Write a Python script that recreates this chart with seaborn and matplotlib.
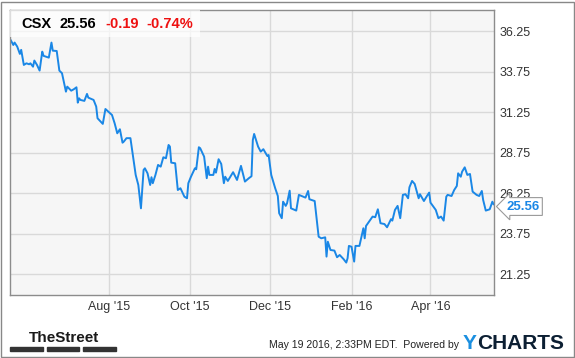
import pandas as pd
import seaborn as sns
import matplotlib.pyplot as plt
from matplotlib.patches import Rectangle

# CSX daily close
dates = [
    '2015-05-18', '2015-05-20', '2015-05-21', '2015-05-23', '2015-05-25', '2015-05-26', '2015-05-28', '2015-05-30',
    '2015-06-01', '2015-06-02', '2015-06-04', '2015-06-05', '2015-06-07', '2015-06-09', '2015-06-11', '2015-06-12',
    '2015-06-16', '2015-06-18', '2015-06-19', '2015-06-22', '2015-06-24', '2015-06-26', '2015-06-29', '2015-06-30',
    '2015-07-03', '2015-07-05', '2015-07-07', '2015-07-08', '2015-07-09', '2015-07-10', '2015-07-13', '2015-07-15',
    '2015-07-16', '2015-07-20', '2015-07-22', '2015-07-23', '2015-07-27', '2015-07-29', '2015-08-01', '2015-08-03',
    '2015-08-05', '2015-08-07', '2015-08-09', '2015-08-11', '2015-08-12', '2015-08-14', '2015-08-17', '2015-08-21',
    '2015-08-23', '2015-08-25', '2015-08-27', '2015-08-28', '2015-08-30', '2015-09-01', '2015-09-02', '2015-09-03',
    '2015-09-05', '2015-09-07', '2015-09-09', '2015-09-11', '2015-09-13', '2015-09-15', '2015-09-16', '2015-09-17',
    '2015-09-20', '2015-09-22', '2015-09-24', '2015-09-27', '2015-09-29', '2015-09-30', '2015-10-02', '2015-10-05',
    '2015-10-06', '2015-10-08', '2015-10-09', '2015-10-12', '2015-10-14', '2015-10-15', '2015-10-16', '2015-10-19',
    '2015-10-20', '2015-10-21', '2015-10-23', '2015-10-25', '2015-10-27', '2015-10-28', '2015-10-30', '2015-11-03',
    '2015-11-06', '2015-11-09', '2015-11-12', '2015-11-15', '2015-11-17', '2015-11-18', '2015-11-19', '2015-11-22',
    '2015-11-24', '2015-11-26', '2015-11-29', '2015-11-30', '2015-12-02', '2015-12-05', '2015-12-07', '2015-12-08',
    '2015-12-10', '2015-12-11', '2015-12-13', '2015-12-14', '2015-12-16', '2015-12-17', '2015-12-21', '2015-12-23',
    '2015-12-28', '2015-12-30', '2015-12-31', '2016-01-04', '2016-01-07', '2016-01-09', '2016-01-12', '2016-01-13',
    '2016-01-14', '2016-01-16', '2016-01-19', '2016-01-21', '2016-01-23', '2016-01-26', '2016-01-28', '2016-01-29',
    '2016-01-30', '2016-02-01', '2016-02-03', '2016-02-04', '2016-02-07', '2016-02-10', '2016-02-11', '2016-02-12',
    '2016-02-17', '2016-02-19', '2016-02-21', '2016-02-23', '2016-02-26', '2016-02-28', '2016-03-02', '2016-03-03',
    '2016-03-05', '2016-03-07', '2016-03-09', '2016-03-11', '2016-03-13', '2016-03-15', '2016-03-16', '2016-03-18',
    '2016-03-20', '2016-03-23', '2016-03-24', '2016-03-27', '2016-03-29', '2016-03-31', '2016-04-01', '2016-04-05',
    '2016-04-07', '2016-04-09', '2016-04-11', '2016-04-13', '2016-04-14', '2016-04-17', '2016-04-19', '2016-04-21',
    '2016-04-22', '2016-04-24', '2016-04-25', '2016-04-27', '2016-04-29', '2016-05-01', '2016-05-03', '2016-05-06',
    '2016-05-08', '2016-05-10', '2016-05-11', '2016-05-13', '2016-05-16', '2016-05-18', '2016-05-19',
]
prices = [
    35.71, 35.40, 35.55, 35.30, 34.85, 35.10, 34.17, 34.27,
    34.21, 34.27, 34.06, 34.44, 34.17, 33.82, 34.99, 34.73,
    34.62, 35.55, 35.05, 35.03, 33.82, 33.66, 32.52, 32.83,
    32.58, 32.67, 32.79, 31.84, 32.11, 32.01, 31.95, 32.38,
    32.15, 32.01, 31.60, 30.88, 30.53, 31.45, 31.23, 31.08,
    30.57, 29.95, 30.20, 29.37, 29.44, 29.65, 29.65, 27.38,
    26.76, 25.32, 27.69, 27.79, 27.48, 26.76, 27.24, 26.87,
    27.38, 28.00, 27.89, 28.47, 28.41, 29.23, 29.13, 28.14,
    28.10, 26.45, 26.56, 26.04, 25.94, 26.87, 27.27, 27.79,
    27.73, 29.09, 29.03, 28.51, 27.18, 27.89, 27.38, 27.38,
    27.75, 27.52, 28.35, 28.06, 26.87, 27.27, 27.01, 27.55,
    27.07, 27.94, 26.97, 27.18, 27.30, 29.54, 29.91, 29.13,
    28.82, 28.97, 28.55, 28.61, 27.38, 26.56, 26.08, 25.02,
    24.71, 25.73, 25.47, 25.63, 26.41, 25.32, 25.18, 26.15,
    25.98, 26.39, 25.88, 25.77, 23.57, 23.47, 23.53, 22.34,
    23.26, 22.75, 22.71, 22.30, 22.44, 22.18, 21.97, 22.24,
    23.00, 22.95, 22.03, 23.00, 23.00, 24.09, 23.47, 24.23,
    24.81, 24.77, 25.26, 24.40, 24.35, 24.15, 24.65, 24.56,
    25.22, 25.47, 24.71, 26.15, 26.19, 25.94, 26.62, 27.01,
    26.82, 25.94, 26.19, 25.77, 26.04, 26.29, 25.67, 25.22,
    24.71, 24.81, 24.56, 26.04, 26.15, 26.08, 26.45, 26.70,
    27.48, 27.27, 27.58, 27.85, 27.38, 27.44, 26.35, 26.15,
    26.08, 26.39, 25.84, 25.18, 25.26, 25.73, 25.56,
]

tick_dates = ['2015-08-01', '2015-10-01', '2015-12-01', '2016-02-01', '2016-04-01']
tick_labels = ["Aug '15", "Oct '15", "Dec '15", "Feb '16", "Apr '16"]
y_ticks = [21.25, 23.75, 26.25, 28.75, 31.25, 33.75, 36.25]

ticker, last, change, change_pct = 'CSX', '25.56', '-0.19', '-0.74%'

df = pd.DataFrame({'date': pd.to_datetime(dates), 'price': prices})

sns.set_style('white')
plt.rcParams['font.family'] = ['Liberation Sans', 'DejaVu Sans']

W, H = 575, 358
fig = plt.figure(figsize=(W / 100, H / 100), dpi=100)


def px(x, y):
    # pixel position (from top-left) -> figure fraction
    return x / W, 1 - y / H


ax = fig.add_axes([10 / W, 1 - 295 / H, 484 / W, 285 / H])
ax.set_facecolor('#f6f6f6')

blue = '#1a87e6'
sns.lineplot(data=df, x='date', y='price', ax=ax, color=blue, linewidth=1.4)

ax.set_xlim(pd.Timestamp('2015-05-17 12:00'), pd.Timestamp('2016-05-19 06:00'))
ax.set_ylim(19.97, 37.56)
ax.set_xticks(pd.to_datetime(tick_dates))
ax.set_xticklabels(tick_labels)
ax.set_yticks(y_ticks)
ax.set_yticklabels([f'{v:.2f}' for v in y_ticks])
ax.yaxis.tick_right()
ax.tick_params(axis='both', length=0, labelsize=9, labelcolor='#333333')
ax.tick_params(axis='y', pad=4)
ax.tick_params(axis='x', pad=4)
ax.set_xlabel('')
ax.set_ylabel('')
ax.grid(True, color='#d9d9d9', linewidth=1)
for s in ax.spines.values():
    s.set_color('#8c8c8c')
    s.set_linewidth(1)

# header box with quote
ax.add_patch(Rectangle((0, 1 - 26.7 / 285), 190 / 484, 26.7 / 285, transform=ax.transAxes,
                       facecolor='white', alpha=0.7, edgecolor='none', zorder=3))
for xx, txt, col in [(21, ticker, 'black'), (60, last, 'black'), (105, change, '#ee1111'), (146, change_pct, '#ee1111')]:
    fig.text(*px(xx, 28.5), txt, color=col, fontsize=10.5, fontweight='bold', ha='left', va='baseline')

# last value tag
ax.annotate(last, xy=(df['date'].iloc[-1], prices[-1]), xytext=(9, -1.5), textcoords='offset points',
            ha='left', va='center', fontsize=9.5, fontweight='bold', color=blue, annotation_clip=False,
            bbox=dict(boxstyle='larrow,pad=0.22', fc='white', ec='#999999', lw=0.8))

# footer
fig.text(*px(63.5, 341.5), 'TheStreet', fontsize=11, fontweight='bold', ha='center', va='baseline',
         family=['Liberation Sans Narrow', 'DejaVu Sans Condensed', 'Liberation Sans'], color='#1a1a1a')
for x0, x1 in [(10, 42.7), (46.7, 79.3), (83.3, 115.7)]:
    fig.add_artist(Rectangle(px(x0, 350.7), (x1 - x0) / W, 3.4 / H, color='#333333'))

fig.text(*px(459, 348), 'May 19 2016, 2:33PM EDT.  Powered by', fontsize=7.6, ha='right',
         va='baseline', color='#222222')
t = fig.text(*px(463, 349), 'Y', fontsize=15, fontweight='bold', color='#1a8fe0', ha='left', va='baseline')
fig.canvas.draw()
bb = t.get_window_extent()
fig.text(bb.x1 / W, 1 - 349 / H, 'CHARTS', fontsize=15, fontweight='bold', color='#0c1f33',
         ha='left', va='baseline')

# outer frame
fig.add_artist(Rectangle((0.5 / W, 1.5 / H), (W - 2) / W, (H - 3) / H, fill=False, ec='#888888', lw=1))

fig.savefig('out.png', dpi=100)
